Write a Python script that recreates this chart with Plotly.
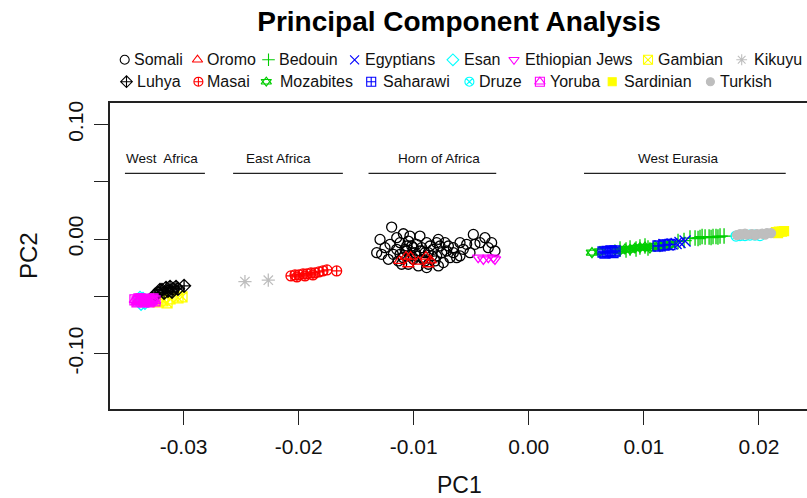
import plotly.graph_objects as go

W, H = 807, 498

populations = ["Somali", "Oromo", "Bedouin", "Egyptians", "Esan", "Ethiopian Jews", "Gambian", "Kikuyu",
               "Luhya", "Masai", "Mozabites", "Saharawi", "Druze", "Yoruba", "Sardinian", "Turkish"]

somali_pc1 = [-0.01192, -0.01293, -0.01322, -0.01250, -0.01090, -0.00946, -0.01119, -0.01177, -0.01047, -0.00975,
              -0.00888, -0.00786, -0.00728, -0.00656, -0.00598, -0.00482, -0.00468, -0.00381, -0.00352, -0.00294,
              -0.00511, -0.00598, -0.00685, -0.00757, -0.00830, -0.00902, -0.00989, -0.01061, -0.01134, -0.01047,
              -0.00960, -0.00873, -0.00815, -0.00743, -0.01221, -0.01148, -0.01018, -0.00931, -0.00859, -0.00714,
              -0.01090, -0.01004, -0.00917, -0.00844, -0.00772, -0.01279, -0.01206, -0.01105, -0.00888, -0.00786,
              -0.00569, -0.00424, -0.00540, -0.01033, -0.01148, -0.00656, -0.00323, -0.00975, -0.01061, -0.00801,
              -0.01076, -0.00946, -0.00873, -0.01033, -0.01119, -0.00801, -0.00902, -0.01004, -0.00699, -0.00627]
somali_pc2 = [0.01043, -0.00030, -0.01188, -0.00754, 0.00464, 0.00261, -0.00319, -0.01333, -0.00174, -0.00464,
              -0.00319, -0.00030, -0.00319, -0.00754, -0.00319, 0.00406, -0.00464, 0.00116, -0.00754, -0.01043,
              -0.01188, -0.01478, -0.01623, -0.01188, -0.00899, -0.01188, -0.01188, -0.01043, -0.01913, -0.02203,
              -0.02348, -0.02203, -0.01913, -0.02058, -0.01768, -0.00899, -0.00609, -0.00754, -0.00609, -0.01043,
              -0.01623, -0.01768, -0.01768, -0.01478, -0.00609, -0.01333, -0.00464, -0.02203, -0.02493, -0.02348,
              -0.00899, -0.00319, -0.00464, 0.00261, 0.00116, -0.01188, -0.00319, -0.01478, -0.00609, -0.00319,
              -0.00899, -0.01043, -0.01188, -0.01478, -0.01333, -0.01478, -0.01913, -0.00754, -0.00609, -0.01623]

oromo_pc1 = [-0.01125, -0.01067, -0.01027, -0.00960, -0.00893, -0.00853, -0.01047, -0.00873]
oromo_pc2 = [-0.01913, -0.01536, -0.01536, -0.01971, -0.01536, -0.01855, -0.02203, -0.02203]

bedouin_pc1 = [0.00793, 0.00845, 0.00880, 0.00932, 0.00966, 0.01010, 0.01036, 0.01401, 0.01445, 0.01471,
               0.01488, 0.01506, 0.01532, 0.01567, 0.01584, 0.01601, 0.01627, 0.01644, 0.01662, 0.01697,
               0.01297, 0.01349]
bedouin_pc2 = [-0.00870, -0.00957, -0.00783, -0.00870, -0.00696, -0.00609, -0.00783, 0.00087, 0.00087, 0.00043,
               0.00130, 0.00217, 0.00174, 0.00174, 0.00130, 0.00217, 0.00217, 0.00174, 0.00261, 0.00261,
               -0.00217, -0.00130]

egyptians_pc1 = [0.01140, 0.01175, 0.01210, 0.01245, 0.01280, 0.01314, 0.01358]
egyptians_pc2 = [-0.00609, -0.00478, -0.00522, -0.00435, -0.00391, -0.00304, -0.00174]

esan_pc1 = [-0.03379, -0.03353, -0.03336, -0.03370, -0.03310]
esan_pc2 = [-0.05130, -0.05217, -0.05565, -0.05652, -0.05391]

ethjews_pc1 = [-0.00440, -0.00395, -0.00352, -0.00309, -0.00294]
ethjews_pc2 = [-0.01630, -0.01770, -0.01630, -0.01630, -0.01770]

gambian_pc1 = [-0.03222, -0.03179, -0.03144, -0.03118, -0.03049, -0.03014]
gambian_pc2 = [-0.05478, -0.05391, -0.05565, -0.05217, -0.05130, -0.05043]

kikuyu_pc1 = [-0.02467, -0.02264]
kikuyu_pc2 = [-0.03710, -0.03590]

luhya_pc1 = [-0.03222, -0.03188, -0.03153, -0.03118, -0.03092, -0.03066, -0.03170, -0.03136, -0.03101, -0.03205,
             -0.02996, -0.03049, -0.03249]
luhya_pc2 = [-0.04696, -0.04435, -0.04261, -0.04174, -0.04348, -0.04174, -0.04696, -0.04522, -0.04609, -0.04435,
             -0.04087, -0.04348, -0.04870]

masai_pc1 = [-0.02067, -0.02032, -0.01997, -0.01962, -0.01928, -0.01893, -0.01858, -0.01823, -0.01789, -0.01754,
             -0.02015, -0.01945, -0.01876, -0.01670]
masai_pc2 = [-0.03217, -0.03130, -0.03130, -0.03043, -0.03043, -0.02957, -0.02957, -0.02870, -0.02783, -0.02696,
             -0.03304, -0.03217, -0.03130, -0.02783]

mozabites_pc1 = [0.00549, 0.00619, 0.00749, 0.00836, 0.00923, 0.01010, 0.01097, 0.01140, 0.01184, 0.01053,
                 0.00880, 0.00966, 0.00793, 0.01227]
mozabites_pc2 = [-0.01191, -0.01087, -0.00957, -0.00870, -0.00783, -0.00696, -0.00609, -0.00652, -0.00522, -0.00783,
                 -0.00913, -0.00739, -0.01000, -0.00478]

saharawi_pc1 = [0.00645, 0.00680, 0.00714, 0.00749, 0.00662, 0.00732, 0.01123, 0.01175, 0.01227]
saharawi_pc2 = [-0.01130, -0.01087, -0.01043, -0.01043, -0.01217, -0.01174, -0.00609, -0.00522, -0.00478]

druze_pc1 = [0.01801, 0.01836, 0.01879, 0.01922, 0.01966, 0.02009]
druze_pc2 = [0.00261, 0.00304, 0.00304, 0.00348, 0.00348, 0.00304]

yoruba_pc1 = [-0.03423, -0.03396, -0.03370, -0.03344, -0.03318, -0.03292, -0.03266, -0.03249, -0.03405, -0.03353,
              -0.03301, -0.03275, -0.03388, -0.03327]
yoruba_pc2 = [-0.05304, -0.05391, -0.05217, -0.05478, -0.05304, -0.05391, -0.05217, -0.05391, -0.05478, -0.05304,
              -0.05478, -0.05304, -0.05217, -0.05391]

sardinian_pc1 = [0.02148, 0.02174, 0.02200, 0.02218, 0.02166]
sardinian_pc2 = [0.00609, 0.00652, 0.00652, 0.00696, 0.00522]

turkish_pc1 = [0.01810, 0.01853, 0.01896, 0.01940, 0.01983, 0.02027, 0.02070, 0.02105, 0.01879, 0.01966,
               0.02053, 0.01836]
turkish_pc2 = [0.00348, 0.00391, 0.00391, 0.00435, 0.00435, 0.00478, 0.00522, 0.00522, 0.00478, 0.00348,
               0.00391, 0.00435]

x_ticks = [-0.03, -0.02, -0.01, 0.00, 0.01, 0.02]
x_tick_labels = ["-0.03", "-0.02", "-0.01", "0.00", "0.01", "0.02"]
y_ticks = [-0.10, -0.05, 0.00, 0.05, 0.10]
y_tick_labels = ["-0.10", "", "0.00", "", "0.10"]

regions = ["West  Africa", "East Africa", "Horn of Africa", "West Eurasia"]

pc1_values = [somali_pc1, oromo_pc1, bedouin_pc1, egyptians_pc1, esan_pc1, ethjews_pc1, gambian_pc1, kikuyu_pc1,
              luhya_pc1, masai_pc1, mozabites_pc1, saharawi_pc1, druze_pc1, yoruba_pc1, sardinian_pc1, turkish_pc1]
pc2_values = [somali_pc2, oromo_pc2, bedouin_pc2, egyptians_pc2, esan_pc2, ethjews_pc2, gambian_pc2, kikuyu_pc2,
              luhya_pc2, masai_pc2, mozabites_pc2, saharawi_pc2, druze_pc2, yoruba_pc2, sardinian_pc2, turkish_pc2]

# ---- styles (R palette 1..8 recycled, pch 1..16) ----
colors = ["#000000", "#FF0000", "#00CD00", "#0000FF", "#00FFFF", "#FF00FF", "#FFFF00", "#BEBEBE",
          "#000000", "#FF0000", "#00CD00", "#0000FF", "#00FFFF", "#FF00FF", "#FFFF00", "#BEBEBE"]
symbols = [["circle-open"], ["triangle-up-open"], ["cross-thin-open"], ["x-thin-open"], ["diamond-open"],
           ["triangle-down-open"], ["square-x-open"], ["asterisk-open"], ["diamond-cross-open"],
           ["circle-cross-open"], ["triangle-up-open", "triangle-down-open"], ["square-cross-open"],
           ["circle-x-open"], ["square-open", "triangle-up-open"], ["square"], ["circle"]]

FONT = "Liberation Sans, Arial, Helvetica, sans-serif"

# plot region in pixels
PL, PR, PT, PB = 110, 807, 101, 409
# data scale from the reference ticks
x0_px, x_per_unit = 528.8, 11506.0
y0_px, y_per_unit = 238.0, 1150.0
x_range = [(PL - x0_px) / x_per_unit, (PR - x0_px) / x_per_unit]
y_range = [(y0_px - PB) / y_per_unit, (y0_px - PT) / y_per_unit]

fig = go.Figure()

for i, name in enumerate(populations):
    for sym in symbols[i]:
        filled = not sym.endswith("open")
        size = 9 if filled else (10 if sym not in ("cross-thin-open", "x-thin-open", "asterisk-open") else 11)
        fig.add_trace(go.Scatter(
            x=pc1_values[i], y=pc2_values[i], mode="markers", name=name, showlegend=False,
            marker=dict(symbol=sym, size=size, color=colors[i], line=dict(width=1.3, color=colors[i])),
            hoverinfo="x+y+name", cliponaxis=False))

# ---- manual legend (pixel coordinates on an overlay axis) ----
leg_rows_y = [58, 80]
leg_sym_x = [124.7, 197.5, 268.5, 354.6, 452.9, 514.0, 648.0, 741.7,
             126.5, 198.4, 266.3, 371.2, 469.4, 539.9, 612.2, 710.4]
leg_txt_x = [132.3, 205.1, 277.4, 363.1, 461.8, 522.9, 655.5, 751.5,
             135.4, 205.1, 278.3, 381.0, 477.4, 547.5, 622.2, 718.0]
annotations = []
for i, name in enumerate(populations):
    row_y = leg_rows_y[i // 8]
    for sym in symbols[i]:
        filled = not sym.endswith("open")
        fig.add_trace(go.Scatter(
            x=[leg_sym_x[i]], y=[row_y], xaxis="x2", yaxis="y2", mode="markers", showlegend=False,
            hoverinfo="skip",
            marker=dict(symbol=sym, size=8 if filled else 9, color=colors[i],
                        line=dict(width=1.1, color=colors[i]))))
    annotations.append(dict(text=name, x=leg_txt_x[i] / W, y=1 - row_y / H, xref="paper", yref="paper",
                            xanchor="left", yanchor="middle", showarrow=False,
                            font=dict(family=FONT, size=16, color="#111")))

# ---- region labels with underlines ----
region_text_x = [-0.03189, -0.02172, -0.00780, 0.01297]
region_line_x = [(-0.0351, -0.02815), (-0.0257, -0.01616), (-0.01393, -0.00283), (0.0048, 0.02233)]
shapes = []
for name, tx, (lx0, lx1) in zip(regions, region_text_x, region_line_x):
    annotations.append(dict(text=name, x=tx, y=0.0704, xref="x", yref="y", showarrow=False,
                            xanchor="center", yanchor="middle",
                            font=dict(family=FONT, size=13.5, color="#111")))
    shapes.append(dict(type="line", xref="x", yref="y", x0=lx0, x1=lx1, y0=0.0574, y1=0.0574,
                       line=dict(color="#222", width=1.3)))

# axis titles
annotations.append(dict(text="PC1", x=459 / W, y=1 - 485 / H, xref="paper", yref="paper", showarrow=False,
                        xanchor="center", yanchor="middle", font=dict(family=FONT, size=23, color="#111")))
annotations.append(dict(text="PC2", x=29 / W, y=1 - 255 / H, xref="paper", yref="paper", showarrow=False,
                        xanchor="center", yanchor="middle", textangle=-90,
                        font=dict(family=FONT, size=24, color="#111")))

fig.update_layout(
    width=W, height=H,
    margin=dict(l=0, r=0, t=0, b=0),
    paper_bgcolor="white", plot_bgcolor="rgba(0,0,0,0)",
    showlegend=False,
    title=dict(text="<b>Principal Component Analysis</b>", x=459 / W, y=1 - 21 / H,
               xanchor="center", yanchor="middle", font=dict(family=FONT, size=28, color="#000")),
    xaxis=dict(domain=[PL / W, 1.0], range=x_range, tickvals=x_ticks, ticktext=x_tick_labels,
               ticks="outside", ticklen=14, tickwidth=1.4, tickcolor="#222", ticklabelstandoff=4,
               showline=True, linecolor="#222", linewidth=1.8, mirror=True,
               showgrid=False, zeroline=False, fixedrange=True,
               tickfont=dict(family=FONT, size=21, color="#111")),
    yaxis=dict(domain=[1 - PB / H, 1 - PT / H], range=y_range, tickvals=y_ticks, ticktext=y_tick_labels,
               ticks="outside", ticklen=14, tickwidth=1.4, tickcolor="#222", tickangle=-90,
               ticklabelstandoff=3,
               showline=True, linecolor="#222", linewidth=1.8, mirror=False,
               showgrid=False, zeroline=False, fixedrange=True,
               tickfont=dict(family=FONT, size=21, color="#111")),
    xaxis2=dict(domain=[0, 1], range=[0, W], visible=False, anchor="y2", fixedrange=True),
    yaxis2=dict(domain=[0, 1], range=[H, 0], visible=False, anchor="x2", fixedrange=True),
    annotations=annotations,
    shapes=shapes,
)

fig.write_html("out.html")
